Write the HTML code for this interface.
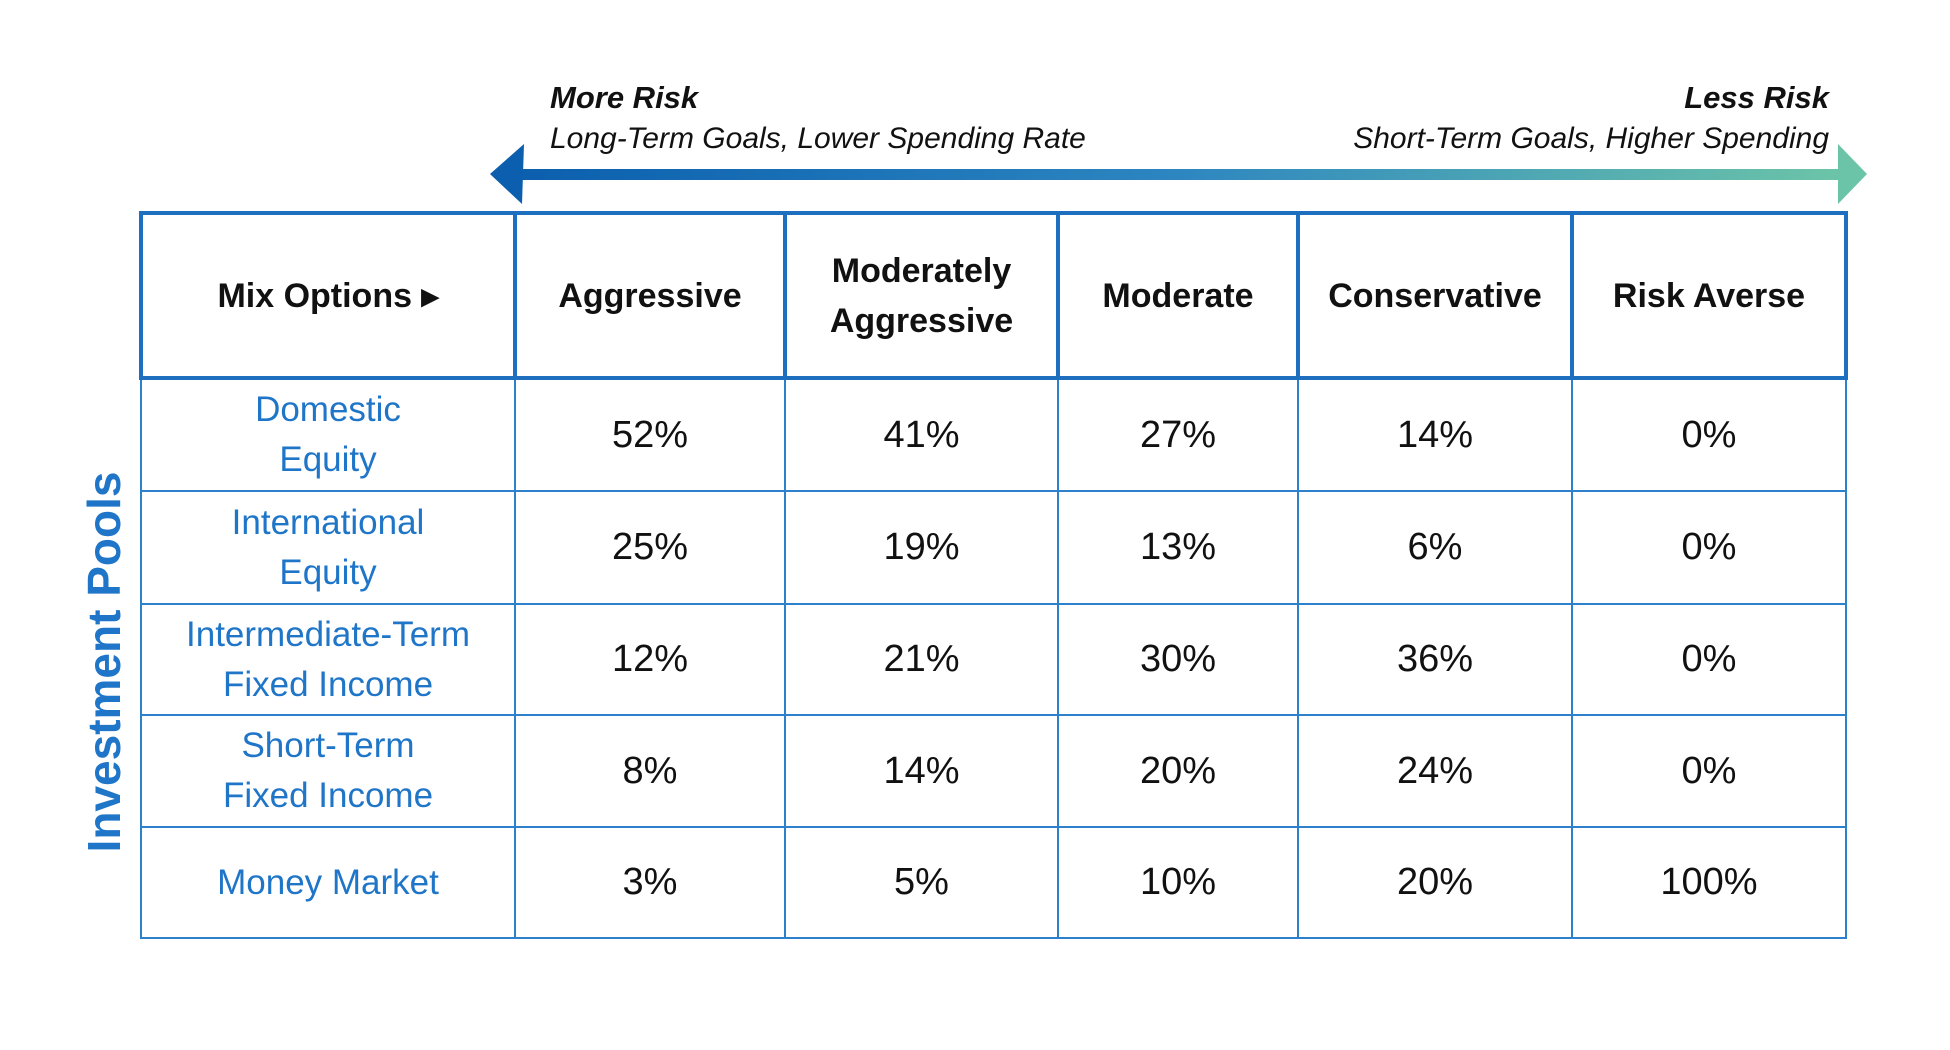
<!DOCTYPE html>
<html><head><style>
body{margin:0;width:1950px;height:1050px;background:#fff;position:relative;overflow:hidden;font-family:"Liberation Sans",sans-serif}
.t{position:absolute;white-space:nowrap}
table{position:absolute;left:139px;top:211px;border-collapse:collapse;table-layout:fixed}
td{border:2px solid #2c80cc;text-align:center;padding:0;font-size:38px;color:#111}
tr.h td{border:4px solid #1f6fc0;font-weight:bold;font-size:34px;line-height:50px}
td.l{color:#1f75c8;font-size:35px;line-height:50px}
</style></head><body>
<svg width="1950" height="240" style="position:absolute;left:0;top:0">
<defs><linearGradient id="g" x1="0" x2="1"><stop offset="0" stop-color="#0b5fae"/><stop offset="0.5" stop-color="#2d86c0"/><stop offset="1" stop-color="#6cc4a8"/></linearGradient></defs>
<rect x="515" y="169" width="1325" height="11" fill="url(#g)"/>
<polygon points="490,174 524,144 522,204" fill="#0b5fae"/>
<polygon points="1867,174 1838,144 1838,204" fill="#6cc4a8"/>
</svg>
<div class="t" style="left:550px;top:80px;font-size:31px;font-style:italic;font-weight:bold;color:#111">More Risk</div>
<div class="t" style="left:550px;top:122px;font-size:30px;font-style:italic;color:#111">Long-Term Goals, Lower Spending Rate</div>
<div class="t" style="right:121px;top:80px;font-size:31px;font-style:italic;font-weight:bold;color:#111">Less Risk</div>
<div class="t" style="right:121px;top:122px;font-size:30px;font-style:italic;color:#111">Short-Term Goals, Higher Spending</div>
<div class="t" style="left:104px;top:662px;transform:translate(-50%,-50%) rotate(-90deg);font-size:46px;font-weight:bold;color:#1f75c8">Investment Pools</div>
<table>
<colgroup><col style="width:374px"><col style="width:270px"><col style="width:273px"><col style="width:240px"><col style="width:274px"><col style="width:274px"></colgroup>
<tr class="h" style="height:165px"><td>Mix Options ▸</td><td>Aggressive</td><td>Moderately<br>Aggressive</td><td>Moderate</td><td>Conservative</td><td>Risk Averse</td></tr>
<tr style="height:113px"><td class="l">Domestic<br>Equity</td><td>52%</td><td>41%</td><td>27%</td><td>14%</td><td>0%</td></tr>
<tr style="height:113px"><td class="l">International<br>Equity</td><td>25%</td><td>19%</td><td>13%</td><td>6%</td><td>0%</td></tr>
<tr style="height:111px"><td class="l">Intermediate-Term<br>Fixed Income</td><td>12%</td><td>21%</td><td>30%</td><td>36%</td><td>0%</td></tr>
<tr style="height:112px"><td class="l">Short-Term<br>Fixed Income</td><td>8%</td><td>14%</td><td>20%</td><td>24%</td><td>0%</td></tr>
<tr style="height:111px"><td class="l">Money Market</td><td>3%</td><td>5%</td><td>10%</td><td>20%</td><td>100%</td></tr>
</table>
</body></html>
